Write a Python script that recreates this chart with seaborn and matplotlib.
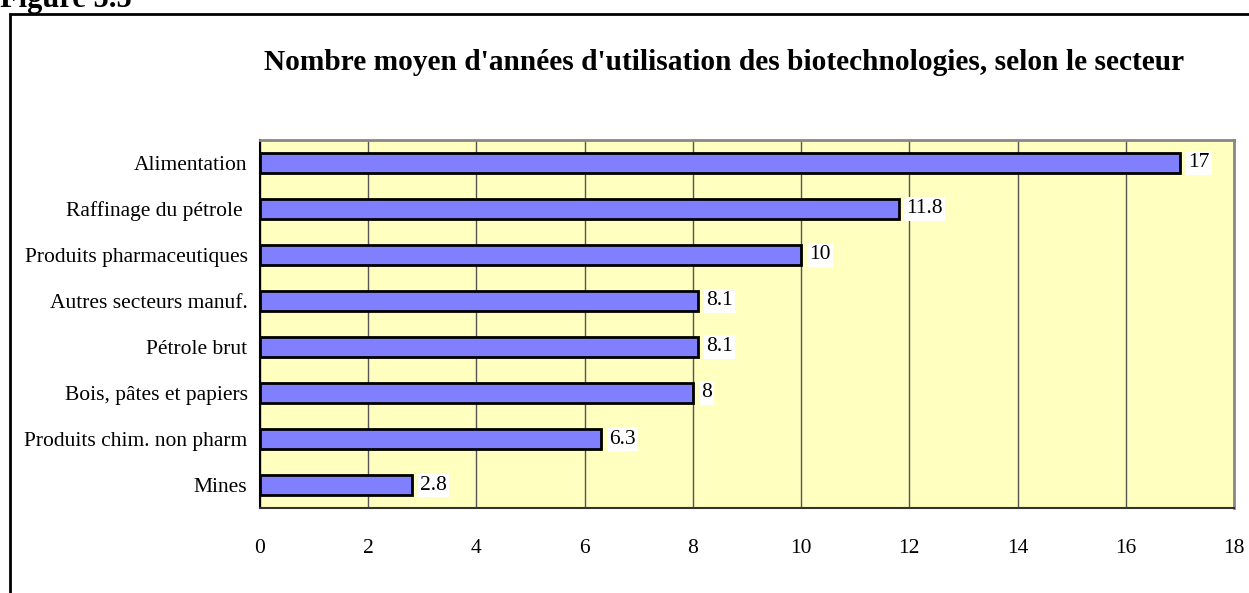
import matplotlib
matplotlib.use("Agg")
import matplotlib.pyplot as plt
import pandas as pd
import seaborn as sns
from matplotlib.patches import Rectangle

# data
secteurs = ["Alimentation", "Raffinage du pétrole ", "Produits pharmaceutiques",
            "Autres secteurs manuf.", "Pétrole brut", "Bois, pâtes et papiers",
            "Produits chim. non pharm", "Mines"]
annees = [17, 11.8, 10, 8.1, 8.1, 8, 6.3, 2.8]
xticks = [0, 2, 4, 6, 8, 10, 12, 14, 16, 18]

df = pd.DataFrame({"secteur": secteurs, "annees": annees})

# style
sns.set_style("white")
plt.rcParams["font.family"] = ["Liberation Serif", "DejaVu Serif"]
plt.rcParams["text.color"] = "black"
plt.rcParams["xtick.color"] = "black"
plt.rcParams["ytick.color"] = "black"

fig = plt.figure(figsize=(12.49, 5.93), dpi=100)
ax = fig.add_axes([0.2082, 0.1433, 0.988 - 0.2082, 0.764 - 0.1433])
ax.set_facecolor("#FFFFC0")

sns.barplot(data=df, x="annees", y="secteur", orient="h", color="#8080FF",
            saturation=1, width=0.43, edgecolor="black", linewidth=2, ax=ax, zorder=3)

# value labels
for i, v in enumerate(annees):
    ax.text(v + 0.15, i, f"{v:g}", va="center", ha="left", fontsize=15.5,
            bbox=dict(facecolor="white", edgecolor="none", pad=1.5), zorder=4)

ax.set_xlim(0, 18)
ax.set_ylim(len(secteurs) - 0.5, -0.5)
ax.set_xticks(xticks)
ax.set_xticklabels([str(t) for t in xticks])
ax.set_xlabel("")
ax.set_ylabel("")
ax.xaxis.grid(True, color="#555555", linewidth=1, zorder=0)
ax.set_axisbelow(True)

# ticks
ax.tick_params(axis="x", direction="out", length=5, width=1, pad=17, labelsize=15.5,
               color="#333333")
ax.tick_params(axis="y", which="major", length=0, pad=9, labelsize=15.5)
ax.set_yticks([i - 0.5 for i in range(len(secteurs) + 1)], minor=True)
ax.tick_params(axis="y", which="minor", direction="inout", length=12, width=1,
               color="black")

for side in ["top", "right"]:
    ax.spines[side].set_color("#888888")
    ax.spines[side].set_linewidth(2)
ax.spines["left"].set_color("black")
ax.spines["left"].set_linewidth(1.5)
ax.spines["bottom"].set_color("#333333")
ax.spines["bottom"].set_linewidth(1.5)

# title
fig.text(0.58, 0.895, "Nombre moyen d'années d'utilisation des biotechnologies, selon le secteur",
         ha="center", va="center", fontsize=21.2, fontweight="bold")

# outer frame and figure label
fig.patches.append(Rectangle((10 / 1249, -0.05), 1.1, 1 - 14 / 593 + 0.05,
                             transform=fig.transFigure, fill=False,
                             edgecolor="black", linewidth=2))
fig.text(0.0, 1 - 7 / 593, "Figure 5.5", ha="left", va="baseline",
         fontsize=22, fontweight="bold")

plt.savefig("out.png", dpi=100)
